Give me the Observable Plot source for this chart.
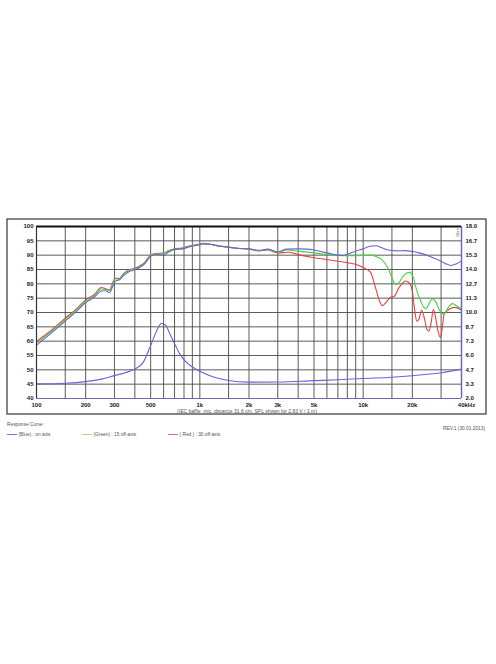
<!DOCTYPE html>
<html><head><meta charset="utf-8">
<script src="https://cdn.jsdelivr.net/npm/d3@7"></script>
<script src="https://cdn.jsdelivr.net/npm/@observablehq/plot@0.6"></script>
<style>body{margin:0;background:#fff} svg{display:block}</style>
</head><body><div id="chart"></div>
<script>
// ---- tick labels / grid ----
const xTicks = [100, 200, 300, 500, 1000, 2000, 3000, 5000, 10000, 20000];
const xTickLabels = ["100", "200", "300", "500", "1k", "2k", "3k", "5k", "10k", "20k"];
const xLastTick = [40000];
const xLastLabel = ["40kHz"];
const xGrid = [100, 150, 200, 300, 400, 500, 600, 700, 800, 900, 1000, 1500, 2000, 3000, 4000, 5000, 6000, 7000, 8000, 9000, 10000, 15000, 20000, 30000, 40000];
const yTicks = [40, 45, 50, 55, 60, 65, 70, 75, 80, 85, 90, 95, 100];
const ohmLabels = ["2.0", "3.3", "4.7", "6.0", "7.3", "8.7", "10.0", "11.3", "12.7", "14.0", "15.3", "16.7", "18.0"];

// ---- SPL on axis (Blue) ----
const onAxisFreq = [100, 120, 150, 175, 200, 225, 250, 265, 280, 295, 305, 320, 340, 370, 400, 430, 460, 500, 540, 600, 640, 700, 780, 850, 950, 1050, 1150, 1300, 1500, 1700, 2000, 2300, 2600, 3000, 3400, 4000, 4500, 5000, 5500, 6000, 7000, 7500, 8000, 9000, 10000, 11000, 12000, 13000, 14000, 16000, 18000, 20000, 22000, 24600, 27000, 30000, 32000, 34400, 37000, 40000];
const onAxisSpl = [58.6, 62.3, 67.0, 70.3, 73.5, 75.3, 77.5, 77.6, 76.9, 79.5, 81.0, 81.3, 82.8, 84.3, 84.9, 85.8, 87.0, 89.6, 90.3, 90.0, 91.0, 92.0, 92.2, 92.8, 93.4, 93.9, 93.8, 93.3, 92.8, 92.4, 92.2, 91.7, 92.1, 91.2, 92.1, 92.2, 92.1, 91.8, 91.3, 90.8, 90.0, 89.9, 90.3, 91.4, 92.2, 93.1, 93.3, 92.6, 91.9, 91.5, 91.6, 91.3, 90.8, 90.0, 89.0, 87.9, 87.0, 86.4, 86.9, 88.0];

// ---- SPL 15° off axis (Green) ----
const off15Freq = [100, 120, 150, 175, 200, 225, 250, 265, 280, 295, 305, 320, 340, 370, 400, 430, 460, 500, 540, 600, 640, 700, 780, 850, 950, 1050, 1150, 1300, 1500, 1700, 2000, 2300, 2600, 3000, 3400, 4000, 5000, 6000, 7000, 8000, 10000, 11100, 12000, 12900, 14300, 15000, 15800, 16500, 17500, 18500, 19300, 20200, 21200, 22500, 23500, 24300, 25300, 26500, 27800, 29500, 31200, 33000, 35100, 37500, 40000];
const off15Spl = [59.3, 62.8, 67.5, 70.8, 74.0, 75.8, 78.2, 78.0, 77.6, 80.5, 81.8, 81.6, 83.3, 84.7, 85.2, 86.1, 87.3, 89.9, 90.5, 90.6, 91.4, 92.1, 92.4, 93.0, 93.5, 94.0, 93.8, 93.2, 92.8, 92.4, 92.2, 91.6, 92.0, 91.0, 91.8, 91.4, 90.8, 90.2, 89.9, 89.8, 89.9, 90.0, 89.5, 88.6, 85.1, 82.0, 79.8, 80.3, 82.5, 83.8, 84.0, 82.5, 78.0, 74.0, 71.8, 71.4, 73.0, 74.8, 73.8, 70.5, 69.3, 71.5, 73.1, 72.3, 71.2];

// ---- SPL 30° off axis (Red) ----
const off30Freq = [100, 120, 150, 175, 200, 225, 250, 265, 280, 295, 305, 320, 340, 370, 400, 430, 460, 500, 540, 600, 640, 700, 780, 850, 950, 1050, 1150, 1300, 1500, 1700, 2000, 2300, 2600, 3000, 3500, 4000, 5000, 6000, 7000, 8000, 9000, 10000, 11100, 11900, 12500, 13100, 13700, 14700, 15500, 16500, 18200, 19400, 20000, 20600, 21300, 21900, 22800, 23700, 24600, 25300, 26000, 26900, 27600, 28600, 29700, 30400, 31300, 32500, 34500, 36500, 40000];
const off30Spl = [59.9, 63.3, 68.0, 71.2, 74.4, 76.2, 78.7, 78.3, 77.9, 80.9, 82.0, 81.8, 83.5, 84.9, 85.4, 86.3, 87.5, 90.1, 90.6, 90.7, 91.5, 92.2, 92.5, 93.1, 93.6, 94.1, 93.8, 93.2, 92.7, 92.4, 92.1, 91.5, 91.8, 90.8, 91.0, 90.2, 89.1, 88.5, 87.9, 87.4, 86.8, 85.7, 84.0, 78.7, 74.5, 72.4, 73.3, 75.3, 75.6, 78.5, 81.0, 79.9, 77.5, 71.5, 67.0, 67.5, 70.8, 68.0, 64.0, 63.6, 66.0, 71.0, 69.0, 64.0, 61.3, 64.0, 69.5, 70.5, 71.5, 71.8, 70.8];

// ---- Impedance (Blue, right axis, ohm) ----
const impFreq = [100, 150, 200, 250, 300, 350, 400, 450, 500, 550, 583, 620, 650, 700, 750, 800, 900, 1000, 1200, 1500, 2000, 3000, 5000, 7000, 10000, 15000, 20000, 30000, 40000];
const impOhm = [3.36, 3.42, 3.57, 3.8, 4.13, 4.4, 4.75, 5.36, 6.93, 8.45, 9.0, 8.8, 8.13, 7.1, 6.2, 5.6, 4.93, 4.53, 4.03, 3.68, 3.52, 3.53, 3.66, 3.74, 3.86, 3.98, 4.12, 4.4, 4.73];

const BLUE = "#6b63d9", GREEN = "#45d33f", RED = "#e8423f";
const toDb = z => 40 + (z - 2) * 60 / 16;
const series = (fs, vs) => fs.map((f, i) => ({f, v: vs[i]}));
const blueData = series(onAxisFreq, onAxisSpl);
const greenData = series(off15Freq, off15Spl);
const redData = series(off30Freq, off30Spl);
const impData = impFreq.map((f, i) => ({f, v: toDb(impOhm[i])}));

const font = "Liberation Sans, Arial, sans-serif";
const chart = Plot.plot({
  width: 496, height: 664,
  marginLeft: 36, marginRight: 35, marginTop: 226, marginBottom: 266,
  x: {type: "log", domain: [100, 40000], axis: null},
  y: {domain: [40, 100], axis: null},
  style: {fontFamily: font, background: "white", overflow: "visible"},
  marks: [
    Plot.ruleX(xGrid, {stroke: "#4a4a4a", strokeWidth: 0.9}),
    Plot.ruleY(yTicks, {stroke: "#4a4a4a", strokeWidth: 0.9}),
    Plot.line(impData, {x: "f", y: "v", stroke: BLUE, strokeWidth: 1.1, curve: "monotone-x"}),
    Plot.line(redData, {x: "f", y: "v", stroke: RED, strokeWidth: 1.1, curve: "monotone-x"}),
    Plot.line(greenData, {x: "f", y: "v", stroke: GREEN, strokeWidth: 1.1, curve: "monotone-x"}),
    Plot.line(blueData, {x: "f", y: "v", stroke: BLUE, strokeWidth: 1.1, curve: "monotone-x"}),
    Plot.ruleY([100], {stroke: "#111", strokeWidth: 2}),
    Plot.ruleX([100], {stroke: "#333", strokeWidth: 1.2}),
    Plot.ruleX([40000], {stroke: "#6a68b8", strokeWidth: 1.5}),
    Plot.ruleY([40], {stroke: "#6a68b8", strokeWidth: 1.2}),
    Plot.axisY({ticks: yTicks, tickSize: 0, tickPadding: 3, label: null, fontWeight: "bold", fontSize: 6, fill: "#222"}),
    Plot.axisY({anchor: "right", ticks: yTicks, tickFormat: d => ohmLabels[yTicks.indexOf(d)], tickSize: 0, tickPadding: 4, label: null, fontWeight: "bold", fontSize: 6, fill: "#222"}),
    Plot.text(xTicks, {x: d => d, y: 40, text: d => xTickLabels[xTicks.indexOf(d)], dy: 7, fontWeight: "bold", fontSize: 6, fill: "#222"}),
    Plot.text(xLastTick, {x: d => d, y: 40, text: d => xLastLabel[0], dy: 7, dx: 5, fontWeight: "bold", fontSize: 6, fill: "#222"}),
    Plot.text(["Ohm"], {x: 40000, y: 100, text: d => d, rotate: -90, dx: -4, dy: 6, fontSize: 4, fill: "#444"})
  ]
});
document.getElementById("chart").appendChild(chart);

const svg = d3.select(chart);
svg.append("rect").attr("x", 7).attr("y", 219).attr("width", 479).attr("height", 195)
  .attr("fill", "none").attr("stroke", "#444").attr("stroke-width", 1.3);
const addText = (x, y, t, anchor, size) => svg.append("text").attr("x", x).attr("y", y)
  .attr("text-anchor", anchor || "start").attr("font-size", size || 4.8)
  .attr("font-family", font).attr("fill", "#555").text(t);
addText(247, 412.5, "(IEC baffle, mic. distance 31.6 cm, SPL shown for 2.83 V / 1 m)", "middle", 5);
addText(7, 426, "Response Curve :");
addText(485, 430, "REV.1 (30.01.2013)", "end");
const legend = [
  {x: 7, color: "#7a74d8", label: "(Blue) : on axis"},
  {x: 82, color: "#c4d47a", label: "(Green) : 15 off-axis"},
  {x: 168, color: "#e86a78", label: "( Red ) : 30 off-axis"}
];
legend.forEach(l => {
  svg.append("line").attr("x1", l.x).attr("x2", l.x + 10).attr("y1", 434.5).attr("y2", 434.5)
    .attr("stroke", l.color).attr("stroke-width", 1);
  addText(l.x + 11.5, 436, l.label);
});
</script>
</body></html>
